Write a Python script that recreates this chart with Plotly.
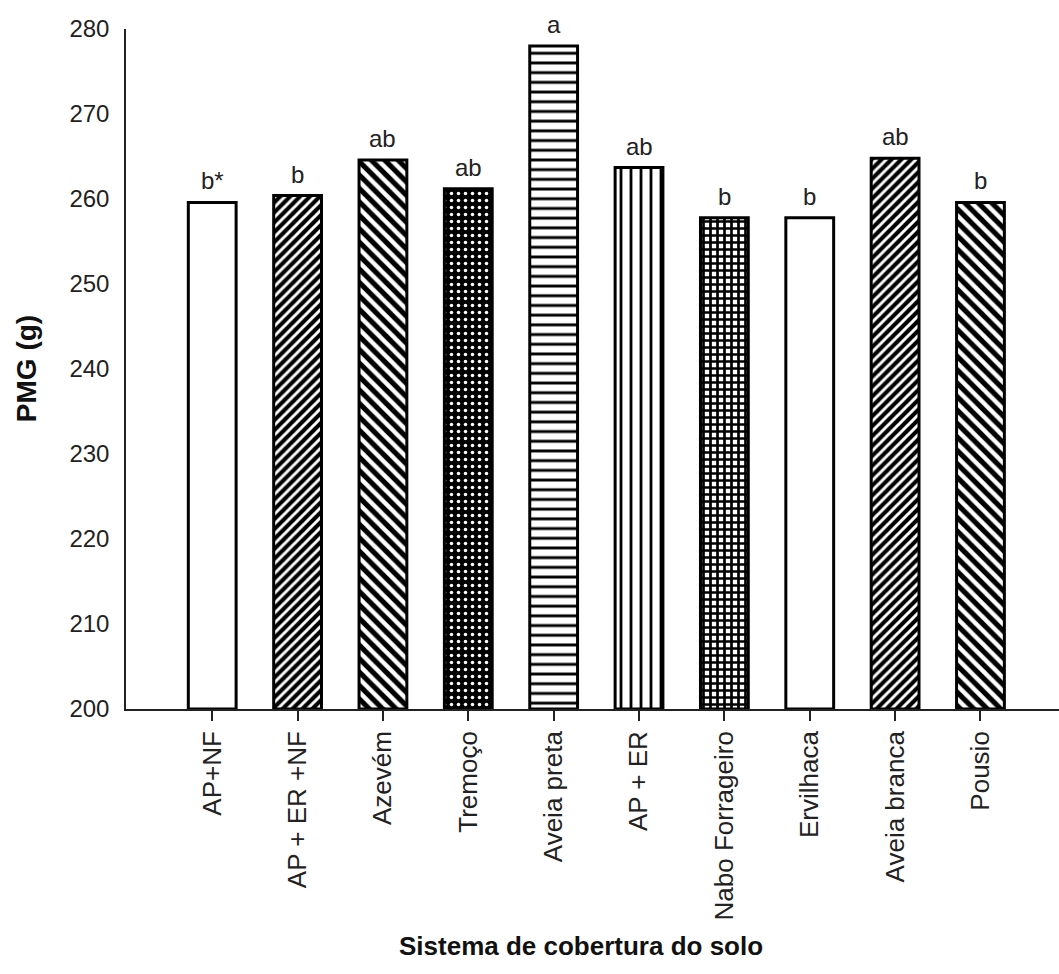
import plotly.graph_objects as go

categories = ["AP+NF", "AP + ER +NF", "Azevém", "Tremoço", "Aveia preta",
              "AP + ER", "Nabo Forrageiro", "Ervilhaca", "Aveia branca", "Pousio"]
values = [259.6, 260.4, 264.6, 261.2, 278.0, 263.7, 257.8, 257.8, 264.8, 259.6]
letters = ["b*", "b", "ab", "ab", "a", "ab", "b", "b", "ab", "b"]
y_ticks = [200, 210, 220, 230, 240, 250, 260, 270, 280]

# pattern styles per bar: (shape, fg, bg, size, solidity)
patterns = [
    ("", "black", "white", 8, 0.3),
    ("/", "white", "black", 7, 0.42),
    ("\\", "white", "black", 9.5, 0.45),
    (".", "white", "black", 7, 0.2),
    ("-", "black", "white", 9.7, 0.3),
    ("|", "black", "white", 10, 0.28),
    ("+", "black", "white", 7, 0.62),
    ("", "black", "white", 8, 0.3),
    ("/", "white", "black", 7, 0.42),
    ("\\", "white", "black", 9.5, 0.45),
]

FONT = "Arial, 'Liberation Sans', sans-serif"
x_idx = list(range(len(categories)))

fig = go.Figure()
for i, (c, v, p) in enumerate(zip(categories, values, patterns)):
    shape, fg, bg, size, sol = p
    fig.add_trace(go.Bar(
        x=[i], y=[v - 200], base=200, width=0.56,
        marker=dict(color=bg, line=dict(color="black", width=3),
                    pattern=dict(shape=shape, fgcolor=fg, bgcolor=bg,
                                 size=size, solidity=sol, fillmode="replace")),
        showlegend=False, hoverinfo="skip",
    ))

for i, (v, t) in enumerate(zip(values, letters)):
    fig.add_annotation(x=i, y=v, text=t, showarrow=False, yanchor="bottom",
                       yshift=6, font=dict(family=FONT, size=24, color="#222"))

fig.add_annotation(text="<b>Sistema de cobertura do solo</b>", xref="paper", yref="paper",
                   x=0.488, y=-0.349, xanchor="center", yanchor="middle", showarrow=False,
                   font=dict(family=FONT, size=26, color="#111"))
fig.add_annotation(text="<b>PMG (g)</b>", xref="paper", yref="paper",
                   x=-0.107, y=0.5, xanchor="center", yanchor="middle", showarrow=False,
                   textangle=-90, font=dict(family=FONT, size=28, color="#111"))

fig.update_layout(
    width=1059, height=974,
    margin=dict(l=126, r=0, t=29, b=265, pad=0),
    paper_bgcolor="white", plot_bgcolor="white",
    bargap=0.44,
    xaxis=dict(range=[-1.01, 9.92], tickmode="array", tickvals=x_idx, ticktext=categories,
               tickangle=-90, ticks="outside", ticklen=10, tickwidth=1.5, tickcolor="#222",
               showline=True, linecolor="#222", linewidth=1.5, showgrid=False, zeroline=False,
               tickfont=dict(family=FONT, size=26, color="#222")),
    yaxis=dict(range=[200, 280], tickmode="array", tickvals=y_ticks, ticks="",
               showline=True, linecolor="#222", linewidth=1.5, showgrid=False, zeroline=False,
               ticklabelstandoff=10,
               tickfont=dict(family=FONT, size=24, color="#222")),
)

fig.write_html("out.html")
